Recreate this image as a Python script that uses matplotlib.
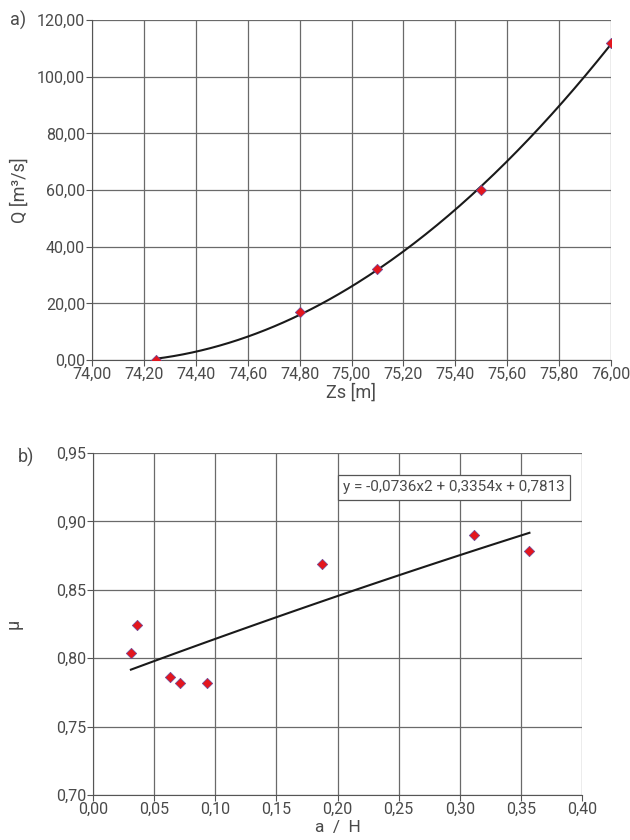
import numpy as np
import matplotlib
matplotlib.use("Agg")
import matplotlib.pyplot as plt
from matplotlib.ticker import FuncFormatter, MultipleLocator

plt.rcParams['font.family'] = ['Roboto', 'DejaVu Sans']

# a) rating curve
zs = [74.245, 74.80, 75.10, 75.50, 76.00]
q = [0.0, 17.0, 32.0, 60.0, 112.0]

# b) discharge coefficient
a_h = [0.031, 0.036, 0.063, 0.071, 0.093, 0.187, 0.312, 0.357]
mu = [0.804, 0.824, 0.786, 0.782, 0.782, 0.869, 0.890, 0.878]
trend_coef = [-0.0736, 0.3354, 0.7813]
trend_label = "y = -0,0736x2 + 0,3354x + 0,7813"

TXT = '#4a4a4a'
GRID = '#6a6a6a'


def comma(fmt):
    return FuncFormatter(lambda v, p: (fmt % v).replace('.', ','))


def style(ax):
    ax.grid(True, color=GRID, lw=0.9)
    ax.set_axisbelow(True)
    for s in ['top', 'right']:
        ax.spines[s].set_visible(False)
    for s in ['left', 'bottom']:
        ax.spines[s].set_color('#555555')
    ax.tick_params(colors=TXT, labelsize=11.5, length=4, color='#555555', pad=1)


fig = plt.figure(figsize=(6.3, 8.4), dpi=100)

ax1 = fig.add_axes([92 / 630, 1 - 360 / 840, 519 / 630, 340 / 840])
style(ax1)
fit = np.polyfit(zs, q, 2)
xs = np.linspace(zs[0], zs[-1], 200)
ax1.plot(xs, np.polyval(fit, xs), color='#1a1a1a', lw=1.5, zorder=3)
ax1.scatter(zs, q, marker='D', s=28, color='#e3161e', edgecolors='#6b4a9a',
            linewidths=0.5, zorder=4)
ax1.set_xlim(74, 76)
ax1.set_ylim(0, 120)
ax1.xaxis.set_major_locator(MultipleLocator(0.2))
ax1.yaxis.set_major_locator(MultipleLocator(20))
ax1.xaxis.set_major_formatter(comma('%.2f'))
ax1.yaxis.set_major_formatter(comma('%.2f'))
ax1.set_xlabel('Zs [m]', color=TXT, fontsize=13, labelpad=1)
ax1.set_ylabel('Q [m³/s]', color=TXT, fontsize=13, labelpad=6)
fig.text(10 / 630, 1 - 20 / 840, 'a)', color=TXT, fontsize=13, va='center')

ax2 = fig.add_axes([93 / 630, 1 - 795 / 840, 489 / 630, 342 / 840])
style(ax2)
xt = np.linspace(a_h[0], a_h[-1], 100)
ax2.plot(xt, np.polyval(trend_coef, xt), color='#1a1a1a', lw=1.5, zorder=3)
ax2.scatter(a_h, mu, marker='D', s=28, color='#e3161e', edgecolors='#6b4a9a',
            linewidths=0.5, zorder=4)
ax2.set_xlim(0, 0.4)
ax2.set_ylim(0.70, 0.95)
ax2.xaxis.set_major_locator(MultipleLocator(0.05))
ax2.yaxis.set_major_locator(MultipleLocator(0.05))
ax2.xaxis.set_major_formatter(comma('%.2f'))
ax2.yaxis.set_major_formatter(comma('%.2f'))
ax2.set_xlabel('a  /  H', color=TXT, fontsize=12.5, labelpad=2)
ax2.set_ylabel('μ', color=TXT, fontsize=13, labelpad=24)
ax2.text(0.965, 0.9, trend_label, transform=ax2.transAxes, ha='right', va='center',
         color=TXT, fontsize=11,
         bbox=dict(boxstyle='square,pad=0.35', fc='white', ec='#555555', lw=0.9))
fig.text(18 / 630, 1 - 457 / 840, 'b)', color=TXT, fontsize=13, va='center')

fig.savefig('out.png', dpi=100)
